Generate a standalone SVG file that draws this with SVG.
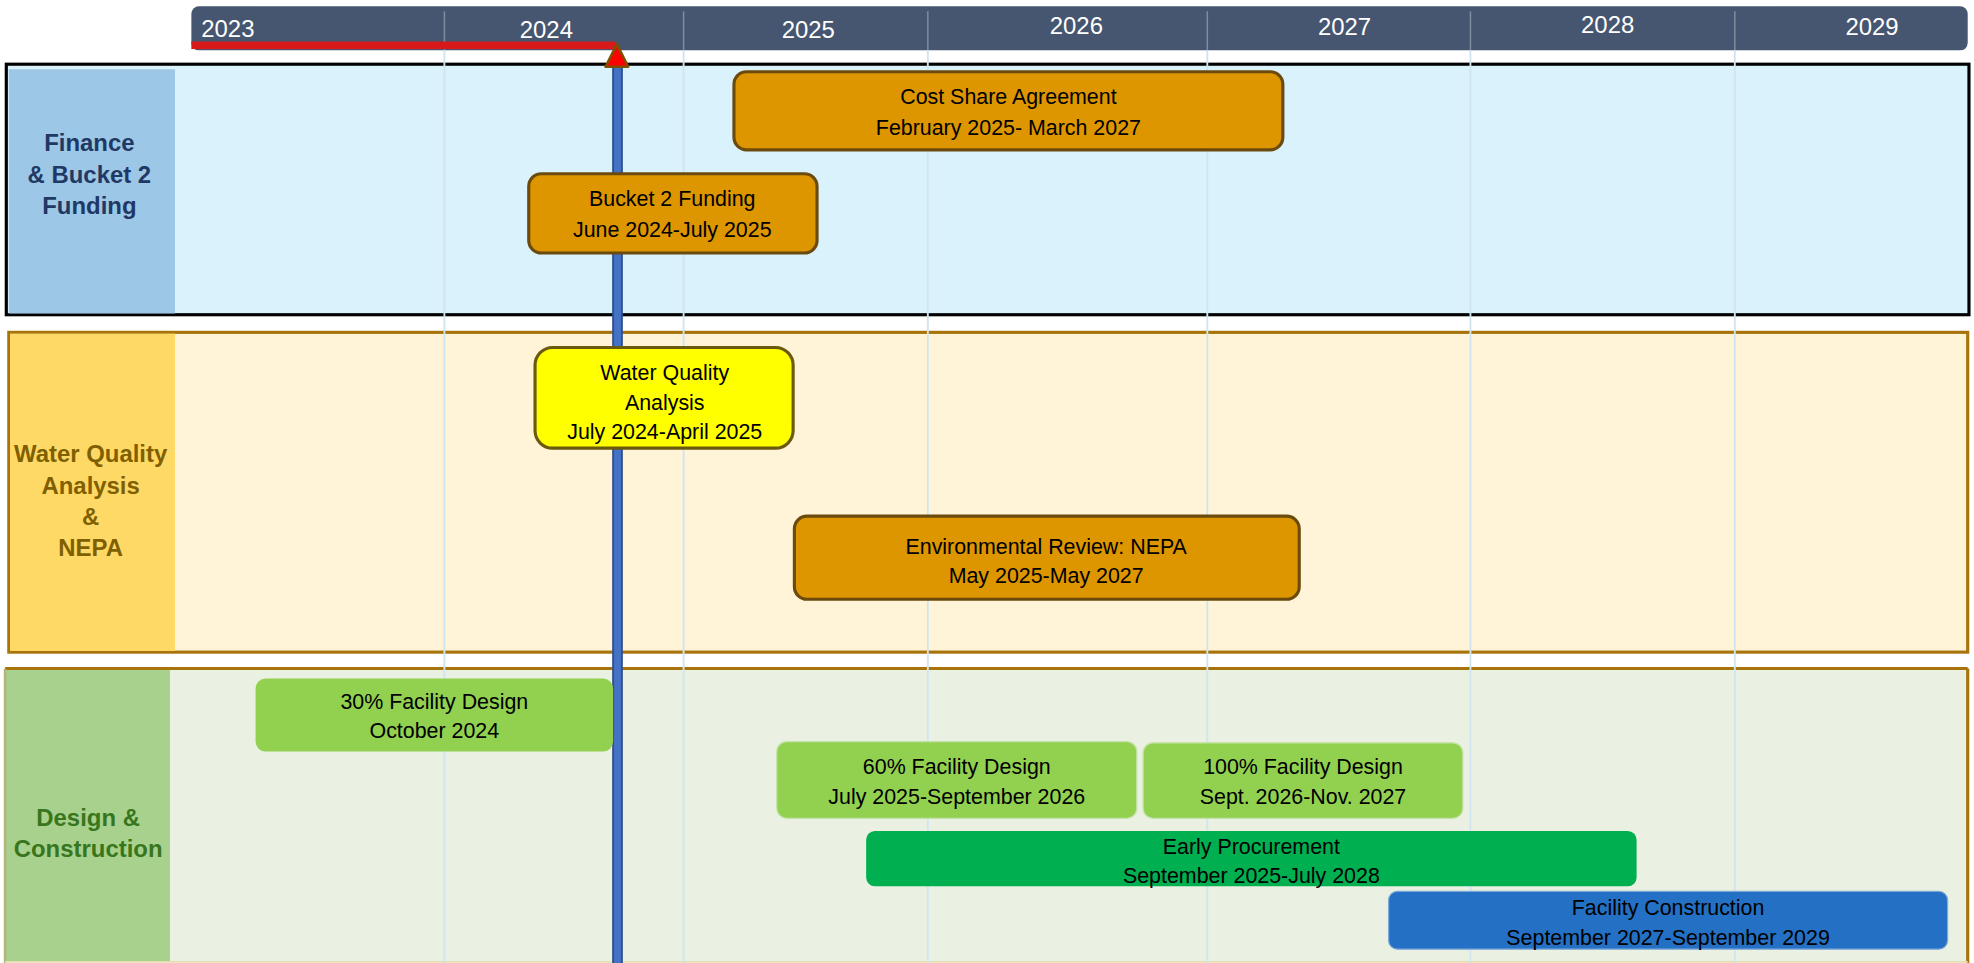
<svg xmlns="http://www.w3.org/2000/svg" width="1974" height="963" viewBox="0 0 1974 963">
<style>
.yr{font-family:"Liberation Sans",Arial,sans-serif;font-size:19px;fill:#ffffff;text-anchor:middle}
.lbl{font-family:"Liberation Sans",Arial,sans-serif;font-size:19px;font-weight:bold;text-anchor:middle}
.t{font-family:"Liberation Sans",Arial,sans-serif;font-size:17px;fill:#000000;text-anchor:middle}
.orange{fill:#DD9600;stroke:#6B4A0E;stroke-width:2.5}
.grid{stroke:#CFE6F0;stroke-width:1.5}
.hdiv{stroke:#7F8C9E;stroke-width:1.2}
</style>
<rect width="1974" height="963" fill="#ffffff"/>
<g transform="scale(1.25893)">
<g id="timeline-header">
  <rect x="152" y="5" width="1411" height="35" rx="6" fill="#465670"/>
  <g class="hdiv">
    <line x1="353" y1="9" x2="353" y2="40"/>
    <line x1="543" y1="9" x2="543" y2="40"/>
    <line x1="737" y1="9" x2="737" y2="40"/>
    <line x1="959" y1="9" x2="959" y2="40"/>
    <line x1="1168" y1="9" x2="1168" y2="40"/>
    <line x1="1378" y1="9" x2="1378" y2="40"/>
  </g>
  <text class="yr" x="181" y="29">2023</text>
  <text class="yr" x="434" y="30">2024</text>
  <text class="yr" x="642" y="30">2025</text>
  <text class="yr" x="855" y="27">2026</text>
  <text class="yr" x="1068" y="28">2027</text>
  <text class="yr" x="1277" y="26">2028</text>
  <text class="yr" x="1487" y="28">2029</text>
  <rect x="152" y="33" width="337" height="6" fill="#D7191C"/>
</g>
<g id="lane-finance">
  <rect x="5" y="51" width="1559" height="199" fill="#D9F2FB" stroke="#000000" stroke-width="2.5"/>
  <rect x="7" y="55" width="132" height="194" fill="#9DC7E6"/>
  <text class="lbl" fill="#1F3864" x="71" y="120">Finance</text>
  <text class="lbl" fill="#1F3864" x="71" y="145">&amp; Bucket 2</text>
  <text class="lbl" fill="#1F3864" x="71" y="170">Funding</text>
</g>
<g id="lane-water">
  <rect x="7" y="264" width="1556" height="254" fill="#FFF4D7" stroke="#A8730A" stroke-width="2.5"/>
  <rect x="8" y="265" width="131" height="252" fill="#FFD966"/>
  <text class="lbl" fill="#7F6000" x="72" y="367">Water Quality</text>
  <text class="lbl" fill="#7F6000" x="72" y="392">Analysis</text>
  <text class="lbl" fill="#7F6000" x="72" y="417">&amp;</text>
  <text class="lbl" fill="#7F6000" x="72" y="442">NEPA</text>
</g>
<g id="lane-design">
  <rect x="4" y="531" width="1559" height="233" fill="#EAF1E2"/>
  <rect x="4" y="531" width="131" height="233" fill="#A9D18E"/>
  <line x1="4" y1="531" x2="1563" y2="531" stroke="#A8730A" stroke-width="2.5"/>
  <line x1="1563" y1="531" x2="1563" y2="765" stroke="#A8730A" stroke-width="2.5"/>
  <line x1="4" y1="531" x2="4" y2="765" stroke="#B5B57A" stroke-width="2"/>
  <line x1="4" y1="764" x2="1563" y2="764" stroke="#E4DDB0" stroke-width="1.5"/>
  <text class="lbl" fill="#38761D" x="70" y="656">Design &amp;</text>
  <text class="lbl" fill="#38761D" x="70" y="681">Construction</text>
</g>
<g id="gridlines" class="grid">
  <line x1="353" y1="40" x2="353" y2="765"/>
  <line x1="543" y1="40" x2="543" y2="765"/>
  <line x1="737" y1="40" x2="737" y2="765"/>
  <line x1="959" y1="40" x2="959" y2="765"/>
  <line x1="1168" y1="40" x2="1168" y2="765"/>
  <line x1="1378" y1="40" x2="1378" y2="765"/>
</g>
<g id="connectors">
  <rect id="today-line" x="487" y="50" width="7" height="720" fill="#4472C4" stroke="#2F4F8F" stroke-width="1.5"/>
  <polygon id="today-marker" points="490,35 499,53 481,53" fill="#FF0000" stroke="#7F4F00" stroke-width="2" stroke-linejoin="round"/>
</g>
<g id="node-cost-share">
  <rect class="orange" x="583" y="57" width="436" height="62" rx="10"/>
  <text class="t" x="801" y="83">Cost Share Agreement</text>
  <text class="t" x="801" y="107">February 2025- March 2027</text>
</g>
<g id="node-bucket2">
  <rect class="orange" x="420" y="138" width="229" height="63" rx="10"/>
  <text class="t" x="534" y="164">Bucket 2 Funding</text>
  <text class="t" x="534" y="188">June 2024-July 2025</text>
</g>
<g id="node-water-quality">
  <rect x="425" y="276" width="205" height="80" rx="14" fill="#FFFF00" stroke="#6B5A0E" stroke-width="2.5"/>
  <text class="t" x="528" y="302">Water Quality</text>
  <text class="t" x="528" y="326">Analysis</text>
  <text class="t" x="528" y="349">July 2024-April 2025</text>
</g>
<g id="node-nepa">
  <rect class="orange" x="631" y="410" width="401" height="66" rx="10"/>
  <text class="t" x="831" y="440">Environmental Review: NEPA</text>
  <text class="t" x="831" y="463">May 2025-May 2027</text>
</g>
<g id="node-30">
  <rect x="203" y="539" width="284" height="58" rx="8" fill="#92D050"/>
  <text class="t" x="345" y="563">30% Facility Design</text>
  <text class="t" x="345" y="586">October 2024</text>
</g>
<g id="node-60">
  <rect x="617" y="589" width="286" height="61" rx="8" fill="#92D050" stroke="#C5E3A6" stroke-width="1"/>
  <text class="t" x="760" y="615">60% Facility Design</text>
  <text class="t" x="760" y="639">July 2025-September 2026</text>
</g>
<g id="node-100">
  <rect x="908" y="590" width="254" height="60" rx="8" fill="#92D050" stroke="#C5E3A6" stroke-width="1"/>
  <text class="t" x="1035" y="615">100% Facility Design</text>
  <text class="t" x="1035" y="639">Sept. 2026-Nov. 2027</text>
</g>
<g id="node-procurement">
  <rect x="688" y="660" width="612" height="44" rx="7" fill="#00B050"/>
  <text class="t" x="994" y="678">Early Procurement</text>
  <text class="t" x="994" y="701">September 2025-July 2028</text>
</g>
<g id="node-construction">
  <rect x="1103" y="708" width="444" height="46" rx="7" fill="#2370C4" stroke="#7FA8D8" stroke-width="1"/>
  <text class="t" x="1325" y="727">Facility Construction</text>
  <text class="t" x="1325" y="751">September 2027-September 2029</text>
</g>
</g>
</svg>
